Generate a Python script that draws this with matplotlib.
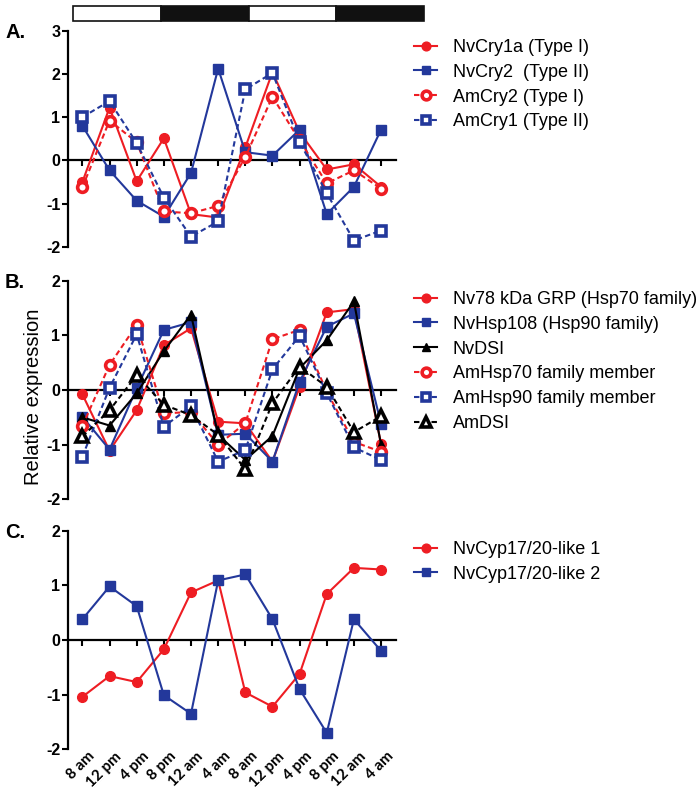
import matplotlib
matplotlib.use("Agg")
import matplotlib.pyplot as plt
from matplotlib.transforms import blended_transform_factory, ScaledTranslation
from matplotlib.patches import Rectangle

# ---------------- data ----------------
time_labels = ["8 am", "12 pm", "4 pm", "8 pm", "12 am", "4 am",
               "8 am", "12 pm", "4 pm", "8 pm", "12 am", "4 am"]

# Panel A
nv_cry1a = [-0.50, 1.22, -0.48, 0.51, -1.24, -1.32, 0.30, 2.04, 0.65, -0.21, -0.09, -0.61]
nv_cry2 = [0.80, -0.23, -0.93, -1.30, -0.29, 2.12, 0.19, 0.11, 0.71, -1.24, -0.61, 0.71]
am_cry2 = [-0.62, 0.92, 0.42, -1.18, -1.22, -1.05, 0.08, 1.47, 0.46, -0.53, -0.23, -0.65]
am_cry1 = [1.00, 1.37, 0.40, -0.86, -1.76, -1.41, 1.64, 2.02, 0.43, -0.76, -1.85, -1.62]

# Panel B
nv78_grp = [-0.08, -1.11, -0.37, 0.82, 1.13, -0.58, -0.61, -1.31, 0.06, 1.42, 1.48, -0.99]
nv_hsp108 = [-0.49, -1.09, 0.03, 1.10, 1.24, -0.82, -0.80, -1.31, 0.15, 1.16, 1.40, -0.62]
nv_dsi = [-0.50, -0.65, -0.06, 0.71, 1.38, -0.82, -1.28, -0.84, 0.40, 0.91, 1.62, -1.00]
am_hsp70 = [-0.66, 0.46, 1.19, -0.43, -0.40, -1.00, -0.61, 0.93, 1.10, -0.03, -0.95, -1.13]
am_hsp90 = [-1.22, 0.04, 1.02, -0.67, -0.30, -1.31, -1.10, 0.38, 0.99, -0.06, -1.05, -1.28]
am_dsi = [-0.85, -0.37, 0.27, -0.27, -0.46, -0.82, -1.45, -0.24, 0.43, 0.06, -0.77, -0.48]

# Panel C
nv_cyp1 = [-1.04, -0.66, -0.77, -0.17, 0.87, 1.09, -0.96, -1.22, -0.62, 0.84, 1.32, 1.29]
nv_cyp2 = [0.38, 0.98, 0.62, -1.01, -1.35, 1.09, 1.20, 0.38, -0.90, -1.70, 0.38, -0.20]

photoperiod = ["light", "dark", "light", "dark"]

# ---------------- style ----------------
RED = "#EE1D23"
BLUE = "#23389B"
BLACK = "#000000"
LW = 1.5
DASH = (0, (2.6, 1.6))
plt.rcParams["font.family"] = ["Liberation Sans", "DejaVu Sans"]
plt.rcParams["axes.unicode_minus"] = False

W, H = 700, 793
fig = plt.figure(figsize=(W / 100, H / 100), dpi=100)


def px_axes(l, t, r, b):
    return fig.add_axes([l / W, 1 - b / H, (r - l) / W, (b - t) / H])


x = list(range(len(time_labels)))


def style_axes(ax, ylo, yhi, show_labels=False):
    ax.set_xlim(-0.53, 11.55)
    ax.set_ylim(ylo, yhi)
    for s in ["top", "right"]:
        ax.spines[s].set_visible(False)
    ax.spines["left"].set_linewidth(1.6)
    ax.spines["bottom"].set_linewidth(1.6)
    ax.spines["bottom"].set_position(("data", 0))
    ax.spines["bottom"].set_zorder(1)
    ax.set_yticks(range(ylo, yhi + 1))
    ax.tick_params(axis="y", direction="out", length=4.5, width=1.5, pad=1,
                   labelsize=11.5)
    for t in ax.get_yticklabels():
        t.set_fontweight("bold")
    ax.set_xticks(x)
    ax.tick_params(axis="x", direction="out", length=4.5, width=1.5,
                   labelbottom=False)
    ax.patch.set_alpha(0)
    if show_labels:
        trans = blended_transform_factory(ax.transData, ax.transAxes) + \
            ScaledTranslation(5 / 100, 0, fig.dpi_scale_trans)
        for xi, lab in zip(x, time_labels):
            ax.text(xi, 0, lab, transform=trans, rotation=45, ha="right",
                    va="top", rotation_mode="anchor", fontsize=11,
                    fontweight="bold", family=["Lato", "DejaVu Sans"])


def series(ax, y, color, marker, filled, dashed, ms=7, label=None):
    kw = dict(color=color, lw=LW, marker=marker, label=label,
              linestyle=DASH if dashed else "-", clip_on=False)
    if filled:
        kw.update(markersize=ms, markerfacecolor=color, markeredgecolor=color,
                  markeredgewidth=1)
    else:
        kw.update(markersize=ms, markerfacecolor="white", markeredgecolor=color,
                  markeredgewidth=2.6)
    ax.plot(x, y, **kw)


def legend(ax, top_px):
    leg = ax.legend(loc="upper left", bbox_to_anchor=(414 / W, 1 - top_px / H),
                    bbox_transform=fig.transFigure, frameon=False, fontsize=13,
                    handlelength=1.3, handletextpad=0.85, labelspacing=0.43,
                    borderpad=0, borderaxespad=0, markerscale=0.9)
    return leg


# Panel A
axA = px_axes(68, 30.5, 396, 247)
series(axA, nv_cry1a, RED, "o", True, False, label="NvCry1a (Type I)")
series(axA, nv_cry2, BLUE, "s", True, False, label="NvCry2  (Type II)")
series(axA, am_cry2, RED, "o", False, True, label="AmCry2 (Type I)")
series(axA, am_cry1, BLUE, "s", False, True, label="AmCry1 (Type II)")
style_axes(axA, -2, 3)
legend(axA, 39)

# Panel B
axB = px_axes(68, 280.7, 396, 499.3)
series(axB, nv78_grp, RED, "o", True, False, label="Nv78 kDa GRP (Hsp70 family)")
series(axB, nv_hsp108, BLUE, "s", True, False, label="NvHsp108 (Hsp90 family)")
series(axB, nv_dsi, BLACK, "^", True, False, label="NvDSI")
series(axB, am_hsp70, RED, "o", False, True, label="AmHsp70 family member")
series(axB, am_hsp90, BLUE, "s", False, True, label="AmHsp90 family member")
series(axB, am_dsi, BLACK, "^", False, True, ms=8, label="AmDSI")
style_axes(axB, -2, 2)
axB.set_ylabel("Relative expression", fontsize=14.5)
axB.yaxis.set_label_coords(-0.075, 0.47)
legend(axB, 291)

# Panel C
axC = px_axes(68, 530.7, 396, 749.3)
series(axC, nv_cyp1, RED, "o", True, False, label="NvCyp17/20-like 1")
series(axC, nv_cyp2, BLUE, "s", True, False, label="NvCyp17/20-like 2")
style_axes(axC, -2, 2, show_labels=True)
legend(axC, 541)

# panel letters
for ax, letter in [(axA, "A."), (axB, "B."), (axC, "C.")]:
    pos = ax.get_position()
    fig.text(5 / W, pos.y1 - 1.5 / H, letter, fontsize=14.5, fontweight="bold",
             ha="left", va="center")

# light/dark bar
bar = px_axes(73, 6, 424, 21)
bar.set_xlim(0, len(photoperiod))
bar.set_ylim(0, 1)
bar.axis("off")
for i, p in enumerate(photoperiod):
    bar.add_patch(Rectangle((i, 0), 1, 1, facecolor="white" if p == "light" else "#111111",
                            edgecolor="#111111", lw=1.2, clip_on=False))

fig.savefig("out.png", dpi=100)
